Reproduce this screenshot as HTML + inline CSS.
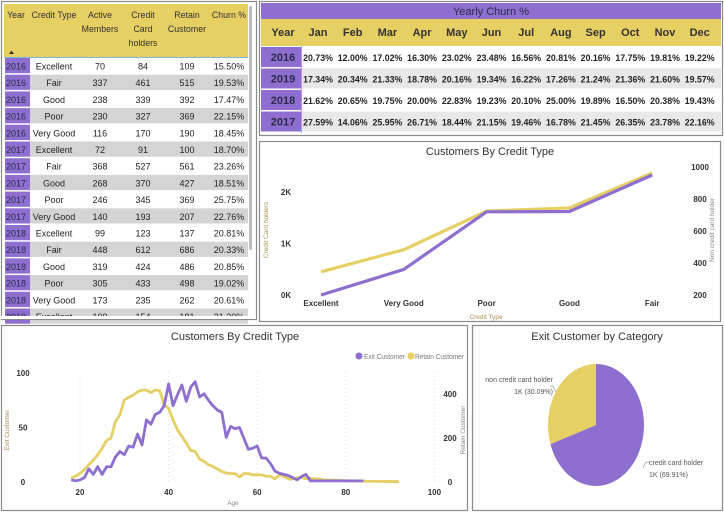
<!DOCTYPE html>
<html><head><meta charset="utf-8">
<style>
html,body{margin:0;padding:0;background:#fff;width:724px;height:512px;overflow:hidden;font-family:"Liberation Sans",sans-serif;}
svg{position:absolute;left:0;top:0;}
text{font-family:"Liberation Sans",sans-serif;}
</style></head>
<body>
<svg id="s" width="724" height="512" viewBox="0 0 724 512"></svg>
<script>
const NS="http://www.w3.org/2000/svg";
const S=document.getElementById('s');
const PUR="#8e6fcf", YEL="#e6cf63";
function el(tag,attrs,parent,txt){const e=document.createElementNS(NS,tag);for(const k in attrs)e.setAttribute(k,attrs[k]);if(txt!==undefined)e.textContent=txt;(parent||S).appendChild(e);return e;}

// ---------- Data ----------
const tblYears=["2016","2016","2016","2016","2016","2017","2017","2017","2017","2017","2018","2018","2018","2018","2018","2019"];
const tblTypes=["Excellent","Fair","Good","Poor","Very Good","Excellent","Fair","Good","Poor","Very Good","Excellent","Fair","Good","Poor","Very Good","Excellent"];
const tblActive=[70,337,238,230,116,72,368,268,246,140,99,448,319,305,173,109];
const tblCC=[84,461,339,327,170,91,527,370,345,193,123,612,424,433,235,154];
const tblRetain=[109,515,392,369,190,100,561,427,369,207,137,686,486,498,262,181];
const tblChurn=["15.50%","19.53%","17.47%","22.15%","18.45%","18.70%","23.26%","18.51%","25.75%","22.76%","20.81%","20.33%","20.85%","19.02%","20.61%","21.30%"];

const months=["Jan","Feb","Mar","Apr","May","Jun","Jul","Aug","Sep","Oct","Nov","Dec"];
const churnYears=["2016","2019","2018","2017"];
const churn2016=["20.73%","12.00%","17.02%","16.30%","23.02%","23.48%","16.56%","20.81%","20.16%","17.75%","19.81%","19.22%"];
const churn2019=["17.34%","20.34%","21.33%","18.78%","20.16%","19.34%","16.22%","17.26%","21.24%","21.36%","21.60%","19.57%"];
const churn2018=["21.62%","20.65%","19.75%","20.00%","22.83%","19.23%","20.10%","25.00%","19.89%","16.50%","20.38%","19.43%"];
const churn2017=["27.59%","14.06%","25.95%","26.71%","18.44%","21.15%","19.46%","16.78%","21.45%","26.35%","23.78%","22.16%"];

const creditTypes=["Excellent","Very Good","Poor","Good","Fair"];
const ccHolders=[450,880,1630,1690,2370];
const nonCC=[200,360,720,722,950];
const leftTicks=[0,1000,2000], leftTickLabels=["0K","1K","2K"];
const rightTicks=[200,400,600,800,1000];

const ages=[18,19,20,21,22,23,24,25,26,27,28,29,30,31,32,33,34,35,36,37,38,39,40,41,42,43,44,45,46,47,48,49,50,51,52,53,54,55,56,57,58,59,60,61,62,63,64,65,66,67,68,69,70,71,72,73,74,75,76,77,78,79,80,81,82,83,84];
const exitCust=[2,1,2,4,12,7,14,7,14,14,23,28,25,33,32,44,34,57,53,62,64,70,90,70,80,89,74,87,92,78,81,75,70,66,64,41,51,49,50,40,30,31,33,22,22,17,10,8,7,6,4,2,5,7,1,1,1,1,1,1,1,1,1,1,1,1,1];
const retAges=[18,19,20,21,22,23,24,25,26,27,28,29,30,31,32,33,34,35,36,37,38,39,40,41,42,43,44,45,46,47,48,49,50,51,52,53,54,55,56,57,58,59,60,61,62,63,64,65,66,67,68,69,70,71,72,73,74,75,76,77,78,80,82,84,86,88,90,92];
const retainCust=[18,26,40,56,78,100,124,154,189,200,275,305,373,385,395,410,418,418,406,418,415,350,335,282,237,207,177,143,139,104,94,78,71,59,48,41,38,38,23,38,38,32,33,32,26,26,14,33,26,14,14,18,21,15,18,14,14,9,9,9,8,6,5,4,3,3,2,2];
const ageTicks=[20,40,60,80,100], exitTicks=[0,50,100], retTicks=[0,200,400];

const pieLabels=["credit card holder","non credit card holder"];
const pieValues=[69.91,30.09];
const pieDisplay=["1K (69.91%)","1K (30.09%)"];

// ---------- Panels ----------
function panel(x,y,w,h,name){const r=el('rect',{x:x+.5,y:y+.5,width:w,height:h,fill:'#fff',stroke:'#8a8a8a','stroke-width':1.2});return r;}
panel(1,1,255,318,'credit-table-panel');
panel(259,1,463,134,'yearly-churn-panel');
panel(259,141,461,180,'credit-line-chart-panel');
panel(1,325,466,185,'age-line-chart-panel');
panel(472,325,250,185,'pie-chart-panel');

// ---------- Left table ----------
const gT=el('g',{});
el('rect',{x:4,y:4,width:244,height:53,fill:YEL},gT);
const colX=[16,54,100,143,187,229];
const hdr=[["Year"],["Credit Type"],["Active","Members"],["Credit","Card","holders"],["Retain","Customer"],["Churn %"]];
hdr.forEach((h,i)=>h.forEach((l,j)=>{const t=el('text',{x:colX[i],y:18+j*14,'font-size':8.8,'text-anchor':'middle',fill:'#333'},gT,l);}));
el('path',{d:'M9 54 L11.5 50.5 L14 54 Z',fill:'#333'},gT);
el('line',{x1:4,y1:57.5,x2:248,y2:57.5,stroke:'#7fb3e0','stroke-width':1},gT);
const rowH=16.7;
tblYears.forEach((yv,i)=>{
  const y=58+i*rowH;
  const g=el('g',{},gT);
  if(i%2==1) el('rect',{x:30,y:y,width:218,height:rowH-1.5,fill:'#d4d4d4'},g);
  el('rect',{x:5,y:y,width:25,height:rowH-1.5,fill:PUR},g);
  const vals=[yv,tblTypes[i],tblActive[i],tblCC[i],tblRetain[i],tblChurn[i]];
  vals.forEach((v,k)=>el('text',{x:colX[k],y:y+11.5,'font-size':9,'text-anchor':'middle',fill:k==0?'#2a2a4a':'#222'},g,v));
});
el('rect',{x:1,y:316,width:255,height:4,fill:'#fff'});
el('line',{x1:1,y1:319.5,x2:256,y2:319.5,stroke:'#8a8a8a'});
const sb=el('rect',{x:249,y:6,width:3,height:244,fill:'#bbb',rx:1.5});

// ---------- Yearly churn table ----------
const gY=el('g',{});
el('rect',{x:261,y:3,width:460,height:16,fill:PUR},gY);
const yt=el('text',{x:491,y:15,'font-size':11,'text-anchor':'middle',fill:'#2a2a4a'},gY,'Yearly Churn %');
el('rect',{x:261,y:19,width:460,height:27,fill:YEL},gY);
el('text',{x:283,y:36,'font-size':11,'font-weight':'bold','text-anchor':'middle',fill:'#333'},gY,'Year');
const mx=i=>318+i*34.7;
months.forEach((m,i)=>el('text',{x:mx(i),y:36,'font-size':11,'font-weight':'bold','text-anchor':'middle',fill:'#333'},gY,m));
const churnRows=[churn2016,churn2019,churn2018,churn2017];
churnYears.forEach((yv,r)=>{
  const y=47+r*21.5;
  const g=el('g',{},gY);
  el('rect',{x:301,y:y,width:420,height:20,fill:r%2?'#e8e8e8':'#fff'},g);
  el('rect',{x:261,y:y,width:40,height:20,fill:PUR},g);
  el('text',{x:283,y:y+14,'font-size':11,'font-weight':'bold','text-anchor':'middle',fill:'#2a2a4a'},g,yv);
  churnRows[r].forEach((v,i)=>el('text',{x:mx(i),y:y+14,'font-size':8.8,'font-weight':'bold','text-anchor':'middle',fill:'#222'},g,v));
});
el('line',{x1:301.5,y1:46,x2:301.5,y2:133,stroke:'#7fb3e0'},gY);

// ---------- Line chart: by credit type ----------
const gL=el('g',{});
const lt=el('text',{x:490,y:155,'font-size':11,'text-anchor':'middle',fill:'#333'},gL,'Customers By Credit Type');
const cx=i=>321+i*82.8;
const lyL=v=>295-v*0.0515;
const lyR=v=>295-(v-200)*0.16;
leftTicks.forEach((v,i)=>{const t=el('text',{x:286,y:lyL(v)+3,'font-size':8,'font-weight':'bold','text-anchor':'middle',fill:'#333'},gL,leftTickLabels[i]);});
rightTicks.forEach(v=>{const t=el('text',{x:700,y:lyR(v)+3,'font-size':8,'font-weight':'bold','text-anchor':'middle',fill:'#333'},gL,v);});
creditTypes.forEach((c,i)=>{const t=el('text',{x:cx(i),y:306,'font-size':8,'font-weight':'bold','text-anchor':'middle',fill:'#333'},gL,c);});
const xat=el('text',{x:486,y:319,'font-size':6.5,'text-anchor':'middle',fill:'#a89050'},gL,'Credit Type');
const ylt=el('text',{x:0,y:0,'font-size':6.5,'text-anchor':'middle',fill:'#a89050',transform:'translate(268,230) rotate(-90)'},gL,'Credit Card holders');
const yrt=el('text',{x:0,y:0,'font-size':6.5,'text-anchor':'middle',fill:'#888',transform:'translate(714,230) rotate(-90)'},gL,'Non credit card holder');
const ccLine=el('polyline',{points:ccHolders.map((v,i)=>cx(i)+','+lyL(v)).join(' '),fill:'none',stroke:YEL,'stroke-width':3.2},gL);

const ncLine=el('polyline',{points:nonCC.map((v,i)=>cx(i)+','+lyR(v)).join(' '),fill:'none',stroke:PUR,'stroke-width':3.2},gL);


// ---------- Age line chart ----------
const gA=el('g',{});
const at=el('text',{x:235,y:340,'font-size':11,'text-anchor':'middle',fill:'#333'},gA,'Customers By Credit Type');
const ax=a=>80+(a-20)*4.43;
const ayE=v=>482-v*1.09;
const ayR=v=>482-v*0.22;
ageTicks.forEach(a=>{
  el('line',{x1:ax(a),y1:372,x2:ax(a),y2:482,stroke:'#ddd','stroke-dasharray':'1,3'},gA);
  const t=el('text',{x:ax(a),y:495,'font-size':8,'font-weight':'bold','text-anchor':'middle',fill:'#333'},gA,a);
});
exitTicks.forEach(v=>{const t=el('text',{x:23,y:ayE(v)+3,'font-size':8,'font-weight':'bold','text-anchor':'middle',fill:'#333'},gA,v);});
retTicks.forEach(v=>{const t=el('text',{x:450,y:ayR(v)+3,'font-size':8,'font-weight':'bold','text-anchor':'middle',fill:'#333'},gA,v);});
const agt=el('text',{x:233,y:505,'font-size':6.5,'text-anchor':'middle',fill:'#888'},gA,'Age');
const et=el('text',{x:0,y:0,'font-size':6.5,'text-anchor':'middle',fill:'#a89050',transform:'translate(9,430) rotate(-90)'},gA,'Exit Customer');
const rt=el('text',{x:0,y:0,'font-size':6.5,'text-anchor':'middle',fill:'#888',transform:'translate(465,430) rotate(-90)'},gA,'Retain Customer');
const rl=el('polyline',{points:retainCust.map((v,i)=>ax(retAges[i])+','+ayR(v)).join(' '),fill:'none',stroke:YEL,'stroke-width':2.8,'stroke-linejoin':'round'},gA);

const xl=el('polyline',{points:exitCust.map((v,i)=>ax(ages[i])+','+ayE(v)).join(' '),fill:'none',stroke:PUR,'stroke-width':2.8,'stroke-linejoin':'round'},gA);

const lg1=el('g',{},gA);
el('circle',{cx:359,cy:356,r:3.5,fill:PUR},lg1);el('text',{x:364,y:359,'font-size':7,fill:'#777',textLength:41,lengthAdjust:'spacingAndGlyphs'},lg1,'Exit Customer');
const lg2=el('g',{},gA);
el('circle',{cx:411,cy:356,r:3.5,fill:YEL},lg2);el('text',{x:415,y:359,'font-size':7,fill:'#777',textLength:49,lengthAdjust:'spacingAndGlyphs'},lg2,'Retain Customer');

// ---------- Pie ----------
const gP=el('g',{});
const pt=el('text',{x:597,y:340,'font-size':11,'text-anchor':'middle',fill:'#333'},gP,'Exit Customer by Category');
const pcx=596,pcy=425,prx=48,pry=61;
const total=pieValues.reduce((a,b)=>a+b,0);
let ang=0;const pieCols=[PUR,YEL];
pieValues.forEach((v,i)=>{
  const a0=ang,a1=ang+v/total*2*Math.PI;ang=a1;
  const p=a=>[pcx+prx*Math.sin(a),pcy-pry*Math.cos(a)];
  const [x0,y0]=p(a0),[x1,y1]=p(a1);
  const s=el('path',{d:`M${pcx},${pcy} L${x0},${y0} A${prx},${pry} 0 ${a1-a0>Math.PI?1:0} 1 ${x1},${y1} Z`,fill:pieCols[i]},gP);
  
});
el('path',{d:'M643,468 L646,462 L650,462',fill:'none',stroke:'#999','stroke-width':.7},gP);
el('text',{x:649,y:465,'font-size':7,fill:'#555'},gP,pieLabels[0]);
el('text',{x:649,y:477,'font-size':7,fill:'#555'},gP,pieDisplay[0]);
el('path',{d:'M556,392 L553,386 L550,386',fill:'none',stroke:'#999','stroke-width':.7},gP);
el('text',{x:553,y:382,'font-size':7,fill:'#555','text-anchor':'end'},gP,pieLabels[1]);
el('text',{x:553,y:394,'font-size':7,fill:'#555','text-anchor':'end'},gP,pieDisplay[1]);
</script>
</body></html>
